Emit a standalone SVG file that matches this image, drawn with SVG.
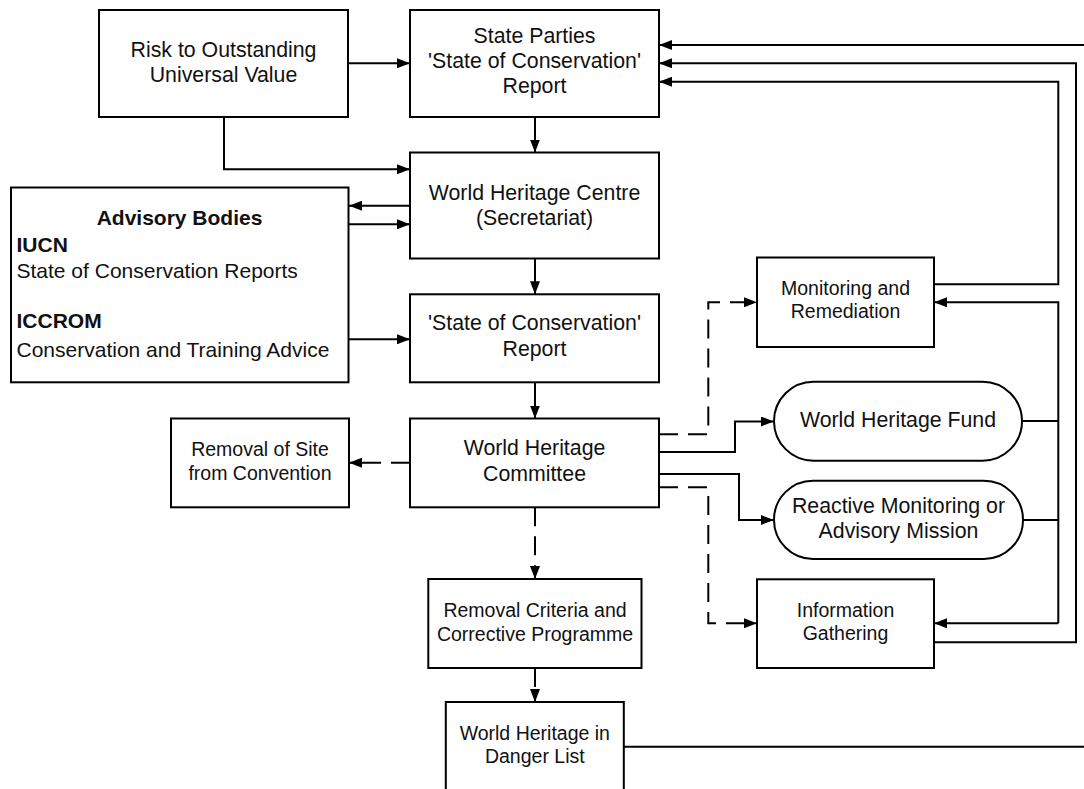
<svg xmlns="http://www.w3.org/2000/svg" width="1084" height="789" viewBox="0 0 1084 789">
<defs>
<marker id="ah" markerWidth="14" markerHeight="10" refX="13" refY="5" orient="auto" markerUnits="userSpaceOnUse"><path d="M0,0 L13,5 L0,10 z" fill="#000"/></marker>
<style>
.box{fill:#fff;stroke:#000;stroke-width:2}
.t{font-family:"Liberation Sans",Arial,sans-serif;font-size:21.3px;fill:#111;text-anchor:middle}
.s{font-family:"Liberation Sans",Arial,sans-serif;font-size:19.5px;fill:#111;text-anchor:middle}
.l{font-family:"Liberation Sans",Arial,sans-serif;font-size:21px;fill:#111}
.b{font-weight:bold}
.c{fill:none;stroke:#000;stroke-width:2}
.d{stroke-dasharray:19 10}
</style>
</defs>
<rect width="1084" height="789" fill="#fff"/>
<g id="connectors">
<path class="c" d="M348,63.3 H410" marker-end="url(#ah)"/>
<path class="c" d="M224,117 V169.3 H410" marker-end="url(#ah)"/>
<path class="c" d="M535,117 V152.5" marker-end="url(#ah)"/>
<path class="c" d="M410,205.7 H349" marker-end="url(#ah)"/>
<path class="c" d="M349,224.3 H410" marker-end="url(#ah)"/>
<path class="c" d="M535,258.5 V294.3" marker-end="url(#ah)"/>
<path class="c" d="M349,339.3 H410" marker-end="url(#ah)"/>
<path class="c" d="M535,382.3 V418.5" marker-end="url(#ah)"/>
<path class="c d" d="M410,462.7 H349" marker-end="url(#ah)"/>
<path class="c d" d="M535,507.3 V579" marker-end="url(#ah)"/>
<path class="c d" d="M535,668 V702" marker-end="url(#ah)"/>
<path class="c d" d="M659,434.3 H708.3 V302.3 H757" marker-end="url(#ah)"/>
<path class="c" d="M659,452 H735 V421.5 H774" marker-end="url(#ah)"/>
<path class="c" d="M659,474 H739 V520 H774" marker-end="url(#ah)"/>
<path class="c d" d="M659,487.3 H708.3 V623.3 H757" marker-end="url(#ah)"/>
<path class="c" d="M934,284.3 H1058.3 V81.7 H659" marker-end="url(#ah)"/>
<path class="c" d="M934,642.3 H1076 V63.3 H659" marker-end="url(#ah)"/>
<path class="c" d="M1058.3,623.3 V302.3 H934" marker-end="url(#ah)"/>
<path class="c" d="M1058.3,623.3 H934" marker-end="url(#ah)"/>
<path class="c" d="M1022,421 H1058.3"/>
<path class="c" d="M1023,520 H1058.3"/>
<path class="c" d="M624,746.7 H1100 V45 H659" marker-end="url(#ah)"/>
</g>
<g id="risk"><rect class="box" x="99" y="10" width="249" height="107"/>
<text class="t" x="223.5" y="56.7">Risk to Outstanding</text><text class="t" x="223.5" y="81.7">Universal Value</text></g>
<g id="stateparties"><rect class="box" x="410" y="10" width="249" height="107"/>
<text class="t" x="534.5" y="43">State Parties</text><text class="t" x="534.5" y="68">'State of Conservation'</text><text class="t" x="534.5" y="93">Report</text></g>
<g id="whc"><rect class="box" x="410" y="152.5" width="249" height="106"/>
<text class="t" x="534.5" y="199.5">World Heritage Centre</text><text class="t" x="534.5" y="224.5">(Secretariat)</text></g>
<g id="advisory"><rect class="box" x="11" y="187.5" width="337.5" height="194.8"/>
<text class="l b" x="179.5" y="225" text-anchor="middle">Advisory Bodies</text>
<text class="l b" x="16.5" y="251.7">IUCN</text>
<text class="l" x="16.5" y="277.7">State of Conservation Reports</text>
<text class="l b" x="16.5" y="328">ICCROM</text>
<text class="l" x="16.5" y="356.7">Conservation and Training Advice</text></g>
<g id="socreport"><rect class="box" x="410" y="294.3" width="249" height="88"/>
<text class="t" x="534.5" y="330">'State of Conservation'</text><text class="t" x="534.5" y="355.5">Report</text></g>
<g id="committee"><rect class="box" x="410" y="418.5" width="249" height="88.8"/>
<text class="t" x="534.5" y="455">World Heritage</text><text class="t" x="534.5" y="481">Committee</text></g>
<g id="removalsite"><rect class="box" x="171" y="418.5" width="178" height="88.8"/>
<text class="s" x="260" y="456">Removal of Site</text><text class="s" x="260" y="480">from Convention</text></g>
<g id="removalcriteria"><rect class="box" x="428.3" y="579" width="213.2" height="89"/>
<text class="s" x="535" y="617">Removal Criteria and</text><text class="s" x="535" y="641">Corrective Programme</text></g>
<g id="danger"><rect class="box" x="445.8" y="702" width="178" height="100"/>
<text class="s" x="534.8" y="740">World Heritage in</text><text class="s" x="534.8" y="763">Danger List</text></g>
<g id="monitoring"><rect class="box" x="757" y="257.5" width="177" height="89.5"/>
<text class="s" x="845.5" y="295">Monitoring and</text><text class="s" x="845.5" y="318.3">Remediation</text></g>
<g id="fund"><rect class="box" x="774" y="381.7" width="248" height="79" rx="39.5" ry="39.5"/>
<text class="t" x="898" y="426.7">World Heritage Fund</text></g>
<g id="reactive"><rect class="box" x="774" y="480.7" width="249" height="78.3" rx="39" ry="39"/>
<text class="t" x="898.5" y="512.7">Reactive Monitoring or</text><text class="t" x="898.5" y="537.7">Advisory Mission</text></g>
<g id="information"><rect class="box" x="757" y="579.3" width="177" height="88.7"/>
<text class="s" x="845.5" y="616.7">Information</text><text class="s" x="845.5" y="640">Gathering</text></g>
</svg>
